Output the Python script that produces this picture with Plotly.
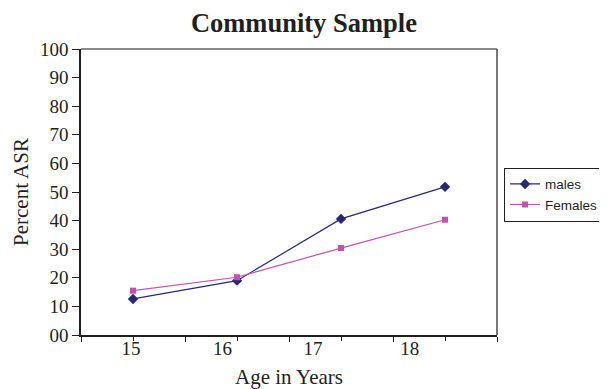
import plotly.graph_objects as go

ages = ["15", "16", "17", "18"]
males = [12.6, 19.0, 40.6, 51.8]
females = [15.5, 20.2, 30.4, 40.3]
y_ticks = [0, 10, 20, 30, 40, 50, 60, 70, 80, 90, 100]
y_tick_labels = ["00", "10", "20", "30", "40", "50", "60", "70", "80", "90", "100"]

# label placement offsets (style, mimicking the original's shifted labels)
label_pos = [-0.02, 0.86, 1.73, 2.66]

serif = "Liberation Serif, Times New Roman, serif"
sans = "Liberation Sans, Arial, sans-serif"

fig = go.Figure()
fig.add_trace(go.Scatter(
    x=ages, y=males, name="males", mode="lines+markers",
    line=dict(color="#27287a", width=1.2),
    marker=dict(symbol="diamond", size=8, color="#27287a"),
))
fig.add_trace(go.Scatter(
    x=ages, y=females, name="Females", mode="lines+markers",
    line=dict(color="#c64fae", width=1.2),
    marker=dict(symbol="square", size=6, color="#c64fae"),
))

# the page body adds an 8px offset, so the figure is sized to fit the window
fig.update_layout(
    width=599, height=381,
    margin=dict(l=73, r=110, t=41, b=54, autoexpand=False),
    paper_bgcolor="white", plot_bgcolor="white",
    title=dict(text="<b>Community Sample</b>", x=0.494, xref="container", xanchor="center",
               y=1, yref="container", yanchor="top", pad=dict(t=5),
               font=dict(family=serif, size=26.5, color="#231f20")),
    showlegend=True,
    legend=dict(x=1.017, xanchor="left", y=0.585, yanchor="top",
                bordercolor="#231f20", borderwidth=1, bgcolor="white",
                font=dict(family=sans, size=13.5, color="#231f20"),
                tracegroupgap=0, itemwidth=30),
    xaxis=dict(type="category", range=[-0.5, 3.5], showgrid=False, zeroline=False,
               automargin=False,
               showline=True, linecolor="#231f20", linewidth=1.5,
               tickson="boundaries", ticks="outside", ticklen=5, tickcolor="#231f20",
               showticklabels=False,
               title=dict(text="Age in Years", font=dict(family=serif, size=21, color="#231f20"),
                          standoff=39)),
    xaxis2=dict(overlaying="x", range=[-0.5, 3.5], showgrid=False, zeroline=False,
                automargin=False,
                tickvals=list(range(len(ages))), ticks="outside", ticklen=5,
                tickcolor="#231f20", showticklabels=False, anchor="y"),
    xaxis3=dict(overlaying="x", range=[-0.5, 3.5], showgrid=False, zeroline=False,
                automargin=False,
                tickvals=label_pos, ticktext=ages, ticks="", anchor="y",
                tickfont=dict(family=serif, size=19, color="#231f20")),
    yaxis=dict(range=[0, 100], showgrid=False, zeroline=False, automargin=False,
               showline=True, linecolor="#231f20", linewidth=1.5,
               tickvals=y_ticks, ticktext=y_tick_labels,
               ticks="outside", ticklen=7, tickcolor="#231f20",
               tickfont=dict(family=serif, size=19, color="#231f20"),
               title=dict(text="Percent ASR", font=dict(family=serif, size=21, color="#231f20"),
                          standoff=6)),
)

# invisible traces to activate overlay axes
fig.add_trace(go.Scatter(x=[None], y=[None], xaxis="x2", showlegend=False, hoverinfo="skip"))
fig.add_trace(go.Scatter(x=[None], y=[None], xaxis="x3", showlegend=False, hoverinfo="skip"))

# plot-area border (top and right)
fig.add_shape(type="line", xref="paper", yref="paper", x0=0, x1=1, y0=1, y1=1,
              line=dict(color="#8a8a8a", width=2))
fig.add_shape(type="line", xref="paper", yref="paper", x0=1, x1=1, y0=0, y1=1,
              line=dict(color="#4a4a4a", width=1.5))

fig.write_html("out.html")
